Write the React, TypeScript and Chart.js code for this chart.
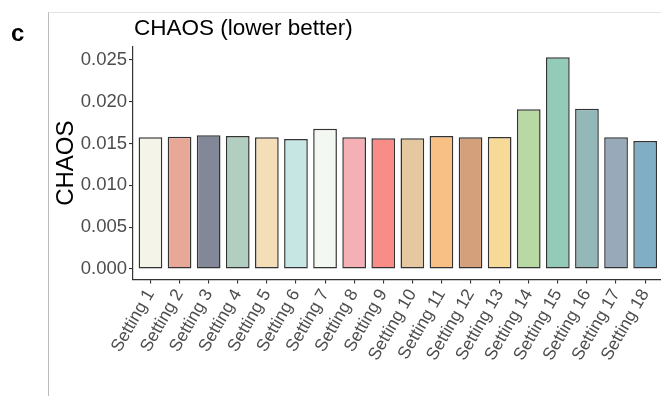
import React, { useEffect, useRef } from "react";
import { Chart, registerables } from "chart.js";

Chart.register(...registerables);

// Benchmark settings on the x axis
const settings = [
  "Setting 1", "Setting 2", "Setting 3", "Setting 4", "Setting 5", "Setting 6",
  "Setting 7", "Setting 8", "Setting 9", "Setting 10", "Setting 11", "Setting 12",
  "Setting 13", "Setting 14", "Setting 15", "Setting 16", "Setting 17", "Setting 18",
];

// CHAOS score per setting (lower is better)
const chaosValues = [
  0.01575, 0.01583, 0.01599, 0.01591, 0.01575, 0.01555,
  0.01678, 0.01575, 0.01563, 0.01563, 0.01591, 0.01575,
  0.01579, 0.0191, 0.02532, 0.01918, 0.01575, 0.01531,
];

const barColors = [
  "#F4F4E8", "#E8A898", "#838898", "#B2CEC0", "#F4DEB8", "#C6E6E4",
  "#F4F8F2", "#F4B0B4", "#FA8C88", "#E6C8A0", "#F8C084", "#D4A07C",
  "#F8DA98", "#B8D8A4", "#94CAB8", "#94B8B8", "#98AABA", "#80AEC4",
];

const yTickValues = [0, 0.005, 0.01, 0.015, 0.02, 0.025];

const panelTag = "c";
const chartTitle = "CHAOS (lower better)";
const yAxisTitle = "CHAOS";

const FONT = "'Liberation Sans', Arial, Helvetica, sans-serif";
const CANVAS_W = 664;
const CANVAS_H = 396;

// Decorations drawn around the plot: panel frame, tag, title and y-axis title
const decorations = {
  id: "decorations",
  afterDraw(chart: any) {
    const { ctx, chartArea } = chart;
    ctx.save();
    // light frame of the figure panel
    ctx.lineWidth = 1;
    ctx.strokeStyle = "#e2e2e2";
    ctx.beginPath();
    ctx.moveTo(48, 12.5);
    ctx.lineTo(CANVAS_W, 12.5);
    ctx.stroke();
    ctx.strokeStyle = "#bbbbbb";
    ctx.beginPath();
    ctx.moveTo(48.5, 12.5);
    ctx.lineTo(48.5, CANVAS_H);
    ctx.stroke();

    // panel tag
    ctx.fillStyle = "#000";
    ctx.font = `bold 24px ${FONT}`;
    ctx.textAlign = "left";
    ctx.textBaseline = "alphabetic";
    ctx.fillText(panelTag, 11, 41);

    // title
    ctx.font = `22.5px ${FONT}`;
    ctx.fillText(chartTitle, 134, 35);

    // y-axis title
    ctx.font = `24px ${FONT}`;
    ctx.translate(73, (chartArea.top + chartArea.bottom) / 2);
    ctx.rotate(-Math.PI / 2);
    ctx.textAlign = "center";
    ctx.fillText(yAxisTitle, 0, 0);
    ctx.restore();
  },
};

export default function App() {
  const canvasRef = useRef<HTMLCanvasElement | null>(null);

  useEffect(() => {
    const canvas = canvasRef.current;
    if (!canvas) return;

    const maxVal = Math.max(...chaosValues);
    const pad = maxVal * 0.05;

    const chart = new Chart(canvas, {
      type: "bar",
      data: {
        datasets: [
          {
            data: chaosValues.map((v, i) => ({ x: i + 1, y: v })),
            backgroundColor: barColors,
            borderColor: "#333333",
            borderWidth: 1.5,
            borderSkipped: false,
            categoryPercentage: 1,
            barPercentage: 0.815,
          },
        ],
      },
      options: {
        responsive: false,
        animation: false,
        devicePixelRatio: 1,
        layout: { padding: { left: 0, top: 46.7, right: 1.4, bottom: 0 } },
        plugins: {
          legend: { display: false },
          tooltip: { enabled: false },
          title: { display: false },
        },
        scales: {
          x: {
            type: "linear",
            offset: false,
            min: 0.4,
            max: settings.length + 0.6,
            afterBuildTicks: (scale: any) => {
              scale.ticks = settings.map((_, i) => ({ value: i + 1 }));
            },
            afterFit: (scale: any) => {
              scale.height = CANVAS_H - 279.6;
              scale.paddingLeft = 0;
              scale.paddingRight = 0;
            },
            grid: {
              display: true,
              offset: false,
              drawOnChartArea: false,
              drawTicks: true,
              tickLength: 4,
              color: "#333333",
              lineWidth: 1.1,
            },
            border: { display: true, color: "#333333", width: 1.2 },
            ticks: {
              autoSkip: false,
              maxRotation: 60,
              minRotation: 60,
              padding: 2,
              color: "#4D4D4D",
              font: { family: FONT, size: 17.5 },
              callback: (_v: any, i: number) => settings[i],
            },
          },
          y: {
            type: "linear",
            min: -pad,
            max: maxVal + pad,
            afterBuildTicks: (scale: any) => {
              scale.ticks = yTickValues.map((v) => ({ value: v }));
            },
            afterFit: (scale: any) => {
              scale.width = 133;
              scale.paddingTop = 0;
              scale.paddingBottom = 0;
            },
            grid: {
              display: true,
              drawOnChartArea: false,
              drawTicks: true,
              tickLength: 4,
              color: "#333333",
              lineWidth: 1.1,
            },
            border: { display: true, color: "#333333", width: 1.2 },
            ticks: {
              padding: 2,
              color: "#4D4D4D",
              font: { family: FONT, size: 18.5 },
              callback: (v: any) => Number(v).toFixed(3),
            },
          },
        },
      },
      plugins: [decorations],
    });

    return () => chart.destroy();
  }, []);

  return (
    <div
      style={{
        position: "fixed",
        left: 0,
        top: 0,
        width: 661,
        height: 396,
        overflow: "hidden",
        background: "#fff",
      }}
    >
      <canvas
        ref={canvasRef}
        width={CANVAS_W}
        height={CANVAS_H}
        style={{ display: "block", width: CANVAS_W, height: CANVAS_H }}
      />
    </div>
  );
}
